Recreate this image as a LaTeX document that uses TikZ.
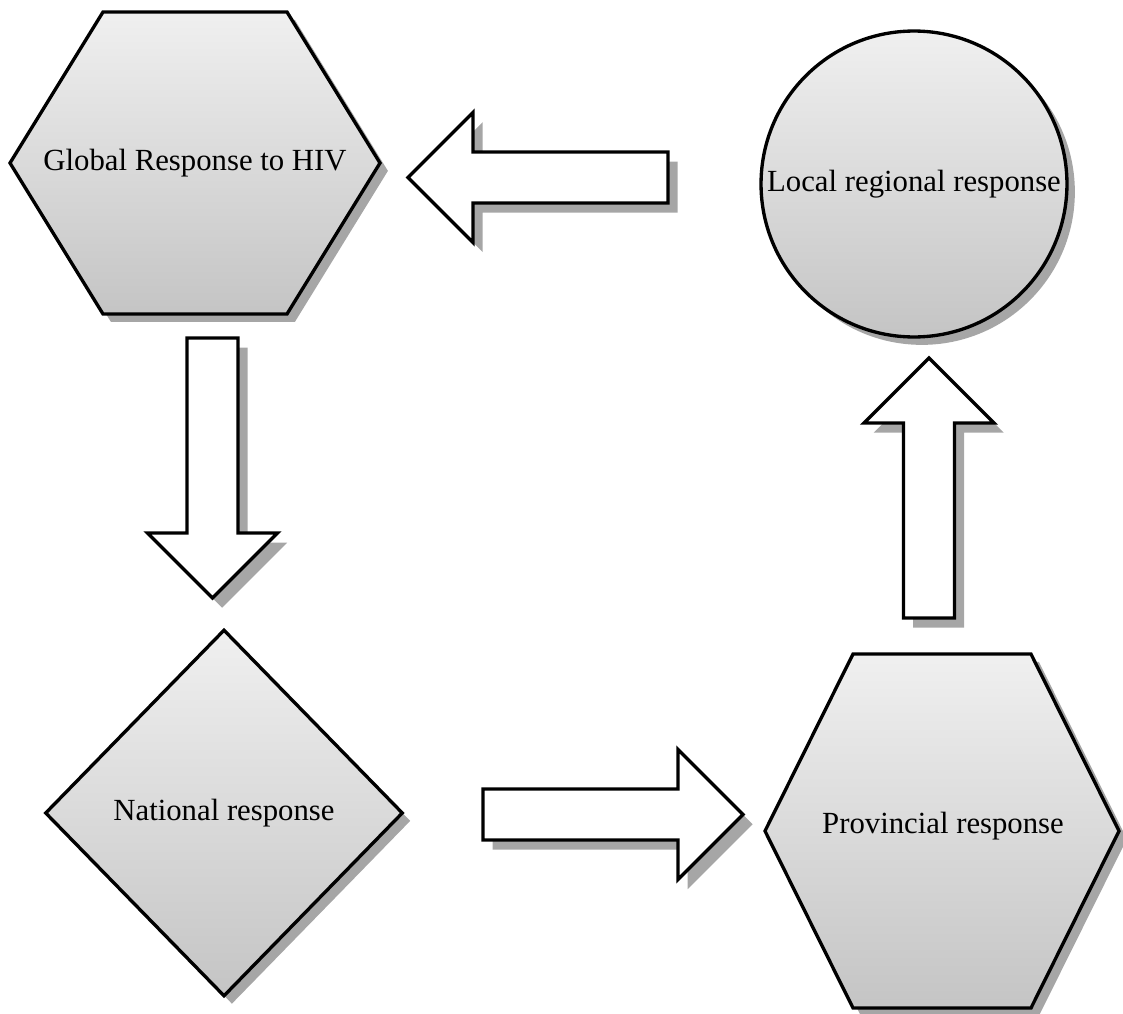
\documentclass[tikz,border=0pt]{standalone}
\usepackage{fontspec}
\setmainfont{Liberation Serif}
\usetikzlibrary{shapes.geometric, shadows}
\newcommand{\hexa}[3]{++(-#1,0) -- ++(#1-#2,-#3) -- ++(2*#2,0) -- ++(#1-#2,#3) -- ++(#2-#1,#3) -- ++(-2*#2,0) -- cycle}
\newcommand{\blk}{(0,-25.5) -- (195,-25.5) -- (195,-65) -- (260,0) -- (195,65) -- (195,25.5) -- (0,25.5) -- cycle}
\newcommand{\barrow}[2]{%
  \fill[black!35, shift={(#1)}, xshift=5.5pt, yshift=-5.5pt, rotate=#2] \blk;
  \draw[line width=1.9pt, fill=white, shift={(#1)}, rotate=#2] \blk;}

\begin{document}
\begin{tikzpicture}[x=0.02cm, y=-0.02cm, font=\fontsize{17.5}{21}\selectfont,
    shp/.style={draw, line width=1.9pt, top color=black!6, bottom color=black!23,
      drop shadow={shadow xshift=4.5pt, shadow yshift=-4.5pt, fill=black!35, opacity=1}}]
    \useasboundingbox (0,0) rectangle (1123,1014);
    \path (195,163) coordinate (glob) (942,831) coordinate (prov);
    \draw[shp] (glob) \hexa{185}{92}{151};
    \draw[shp] (prov) \hexa{177}{89}{177};
    \node (globtxt) at (glob) {Global Response to HIV};
    \node (provtxt) at (943,826) {Provincial response};
    \node[shp, circle, minimum size=6.12cm, label=center:{Local regional response}] (loc) at (914,184) {};
    \node[shp, diamond, inner sep=0pt, minimum width=7.16cm, minimum height=7.34cm, label=center:{National response}] (nat) at (224,813) {};
    \coordinate (l2g) at (668,177.5);
    \coordinate (g2n) at (212.5,338);
    \coordinate (n2p) at (483,814.5);
    \coordinate (p2l) at (929,618);
    \foreach \c/\a in {l2g/180, g2n/-90, n2p/0, p2l/90}
      {\barrow{\c}{\a}}
\end{tikzpicture}
\end{document}
